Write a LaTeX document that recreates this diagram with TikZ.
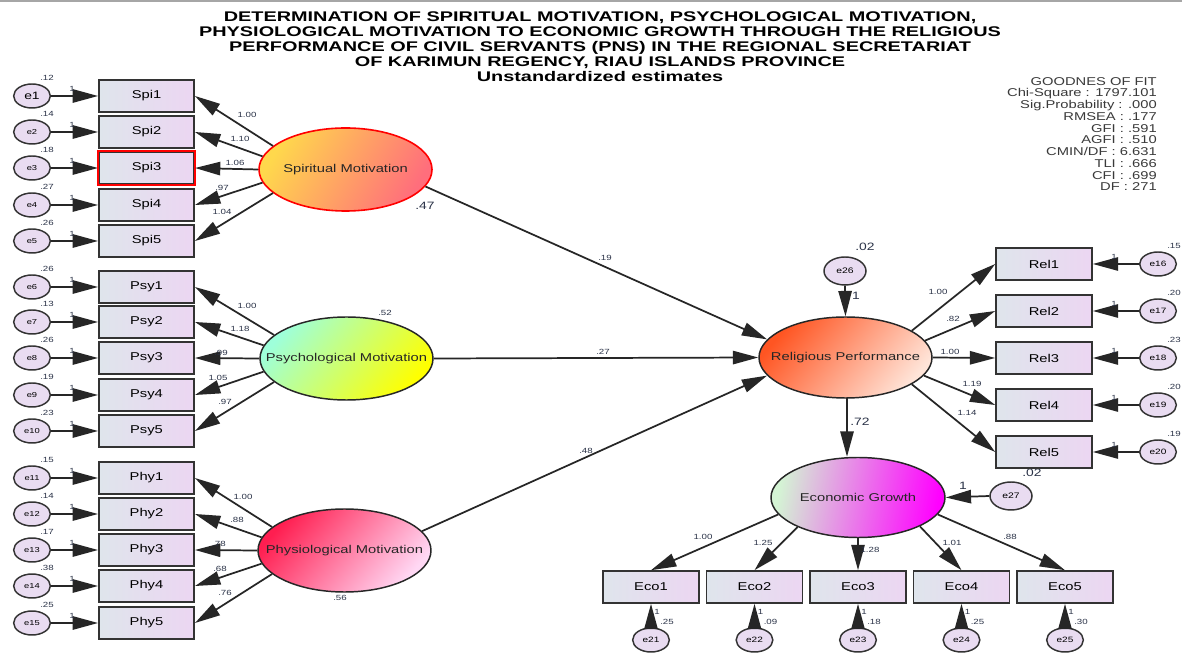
\documentclass[tikz,border=0pt]{standalone}
\usepackage{fontspec}
\setmainfont{Liberation Sans}[FakeStretch=1.3]
\newfontfamily\titlefont{Liberation Sans}[FakeStretch=1.42]
\usetikzlibrary{shapes.geometric,arrows.meta}
\definecolor{boxL}{HTML}{DFE5EC}
\definecolor{boxR}{HTML}{ECD6F2}
\definecolor{errF}{HTML}{E9DCF1}
\definecolor{lblC}{HTML}{2B3348}
\definecolor{spA}{HTML}{FFD84C}
\definecolor{spB}{HTML}{FF6E7C}
\definecolor{psA}{HTML}{9EFFDA}
\definecolor{psB}{HTML}{FFFF00}
\definecolor{phA}{HTML}{FF1E50}
\definecolor{phB}{HTML}{FFD8F4}
\definecolor{rpA}{HTML}{FF5522}
\definecolor{rpB}{HTML}{FFE4D8}
\definecolor{egA}{HTML}{D4F4D4}
\definecolor{egM}{HTML}{C4A0C4}
\definecolor{egB}{HTML}{FF00FF}
\definecolor{gofC}{HTML}{3A3A3A}
\begin{document}
\begin{tikzpicture}[x=0.75pt,y=-0.75pt,
 arr/.style={line width=1.3pt, draw=black!85, -{Triangle[length=19pt,width=10pt]}},
 obs/.style={rectangle, draw=black!80, line width=1.2pt, minimum width=71.5pt, minimum height=24pt, inner sep=0pt, left color=boxL, right color=boxR, font=\fontsize{8.5}{9}\selectfont},
 err/.style={ellipse, draw=black!80, line width=1.1pt, fill=errF, minimum width=27.5pt, minimum height=18pt, inner sep=0pt, font=\fontsize{5.4}{6}\selectfont},
 bigerr/.style={err, minimum width=31.5pt, minimum height=21pt, font=\fontsize{6}{7}\selectfont},
 lat/.style={ellipse, line width=1.1pt, draw=black!85, minimum width=129.75pt, minimum height=62.25pt, inner sep=0pt},
 lattext/.style={font=\fontsize{8.5}{9}\selectfont, text=black!85, inner sep=0pt},
 sm/.style={font=\fontsize{5.6}{6}\selectfont, text=lblC, inner sep=0pt},
 md/.style={font=\fontsize{8}{9}\selectfont, text=lblC, inner sep=0pt},
]
\useasboundingbox (0,0) rectangle (1182,655);
\fill[white] (0,0) rectangle (1182,655);
\draw[black!35, line width=1pt] (0,1) -- (1182,1);

% title
\node[align=center, anchor=north, inner sep=0pt, font=\titlefont\bfseries\fontsize{10.5}{11.25}\selectfont] (title) at (600,11)
 {DETERMINATION OF SPIRITUAL MOTIVATION, PSYCHOLOGICAL MOTIVATION,\\
  PHYSIOLOGICAL MOTIVATION TO ECONOMIC GROWTH THROUGH THE RELIGIOUS\\
  PERFORMANCE OF CIVIL SERVANTS (PNS) IN THE REGIONAL SECRETARIAT\\
  OF KARIMUN REGENCY, RIAU ISLANDS PROVINCE\\
  Unstandardized estimates};

% goodness of fit
\node[align=right, anchor=north east, inner sep=0pt, text=gofC, font=\fontsize{8.5}{8.8}\selectfont] (gof) at (1157,77)
 {GOODNES OF FIT\\Chi-Square : 1797.101\\Sig.Probability : .000\\RMSEA : .177\\GFI : .591\\AGFI : .510\\CMIN/DF : 6.631\\TLI : .666\\CFI : .699\\DF : 271};

% latent variables
\node[lat, draw=red, line width=1.2pt, top color=spA, bottom color=spB, shading angle=60,
  label={[lattext]center:Spiritual Motivation}] (S) at (345.5,169.5) {};
\node[lat, top color=psA, bottom color=psB, shading angle=50,
  label={[lattext]center:Psychological Motivation}] (Ps) at (346.5,358.5) {};
\node[lat, top color=phA, bottom color=phB, shading angle=50,
  label={[lattext]center:Physiological Motivation}] (Ph) at (344.5,550.5) {};
\node[lat, minimum height=60.75pt, top color=rpA, bottom color=rpB, shading angle=50,
  label={[lattext]center:Religious Performance}] (R) at (845.5,357.5) {};
\node[lat, minimum width=130.5pt, minimum height=60pt, left color=egA, middle color=egM, right color=egB, shading angle=80,
  label={[lattext]center:Economic Growth}] (E) at (858,497.5) {};

% left indicators
\foreach \b/\q/\y/\v in {Spi1/1/96/.12, Spi2/2/132/.14, Spi3/3/168/.18, Spi4/4/205/.27, Spi5/5/241/.26,
  Psy1/6/287/.26, Psy2/7/322/.13, Psy3/8/358/.26, Psy4/9/395/.19, Psy5/10/431/.23,
  Phy1/11/478/.15, Phy2/12/514/.14, Phy3/13/550/.17, Phy4/14/586/.38, Phy5/15/623/.25}{
  \node[obs] (\b) at (146.5,\y) {\b};
  \node[err, font={\ifnum\q=1 \fontsize{8}{9}\else\fontsize{5.4}{6}\fi\selectfont}] (e\q) at (32,\y) {e\q};
  \draw[arr] (e\q) -- (\b);
  \node[sm] (v\q) at (47,\y-18) {\v};
  \node[sm] (o\q) at (72,\y-7) {1};
}
\draw[red, line width=1.2pt] (Spi3.south west) rectangle (Spi3.north east);

% loadings from latent to left indicators
\foreach \l/\b in {S/Spi, Ps/Psy, Ph/Phy}{
  \draw[arr] (\l.162) -- (\b1.east);
  \draw[arr] (\l.171) -- (\b2.east);
  \draw[arr] (\l.west) -- (\b3.east);
  \draw[arr] (\l.189) -- (\b4.east);
  \draw[arr] (\l.198) -- (\b5.east);
}
\foreach \n/\x/\y/\t in {a1/247/115/1.00, a2/240/139/1.10, a3/235/163/1.06, a4/222/188/.97, a5/222/212/1.04,
  b1/247/306/1.00, b2/240/329/1.18, b3/221/353/.99, b4/218/378/1.05, b5/225/402/.97,
  c1/243/497/1.00, c2/237/520/.88, c3/219/544/.78, c4/220/569/.68, c5/225/593/.76}{
  \node[sm] (\n) at (\x,\y) {\t};
}
\node[md] (vS) at (425,206) {.47};
\node[sm] (vPs) at (385,313) {.52};
\node[sm] (vPh) at (340,598) {.56};

% structural paths
\draw[arr] (S.348) -- (R.167);
\draw[arr] (Ps.east) -- (R.west);
\draw[arr] (Ph.14) -- (R.193);
\node[sm] (p1) at (605,258) {.19};
\node[sm] (p2) at (603,352) {.27};
\node[sm] (p3) at (586,451) {.48};

% e26
\node[bigerr] (e26) at (845,271) {e26};
\draw[arr] (e26.south) -- (R.north);
\node[md] (v26) at (865,247) {.02};
\node[md] (o26) at (856,296) {1};

% R -> E
\coordinate (rb) at (847,398.5);
\draw[arr] (rb) -- (rb |- E.north);
\node[md] (p4) at (860,422) {.72};

% e27
\node[bigerr] (e27) at (1011,496) {e27};
\draw[arr] (e27.west) -- (E.east);
\node[md] (v27) at (1032,473) {.02};
\node[md] (o27) at (963,486) {1};

% Rel indicators
\foreach \q/\y/\v/\k in {16/264/.15/1, 17/311/.20/2, 18/358/.23/3, 19/405/.20/4, 20/452/.19/5}{
  \node[obs, minimum width=72pt] (Rel\k) at (1044,\y) {Rel\k};
  \node[err, font=\fontsize{5.8}{6}\selectfont] (e\q) at (1158,\y) {e\q};
  \draw[arr] (e\q) -- (Rel\k);
  \node[sm] (v\q) at (1174,\y-18) {\v};
  \node[sm] (o\q) at (1114,\y-7) {1};
}
\draw[arr] (R.22) -- (Rel1.west);
\draw[arr] (R.12) -- (Rel2.west);
\draw[arr] (R.east) -- (Rel3.west);
\draw[arr] (R.-13) -- (Rel4.west);
\draw[arr] (R.-22) -- (Rel5.west);
\foreach \n/\x/\y/\t in {r1/938/292/1.00, r2/953/319/.82, r3/950/352/1.00, r4/972/384/1.19, r5/967/413/1.14}{
  \node[sm] (\n) at (\x,\y) {\t};
}

% Eco indicators
\foreach \q/\x/\v/\k in {21/651/.25/1, 22/754.5/.09/2, 23/858/.18/3, 24/961.5/.25/4, 25/1065/.30/5}{
  \node[obs, minimum width=72pt] (Eco\k) at (\x,587) {Eco\k};
  \node[err, font=\fontsize{5.8}{6}\selectfont] (e\q) at (\x,640) {e\q};
  \draw[arr] (e\q) -- (Eco\k);
  \node[sm] (v\q) at (\x+16,622) {\v};
  \node[sm] (o\q) at (\x+6,612) {1};
}
\draw[arr] (E.192) -- (Eco1.north);
\draw[arr] (E.206) -- (Eco2.north);
\draw[arr] (E.south) -- (Eco3.north);
\draw[arr] (E.-25) -- (Eco4.north);
\draw[arr] (E.-12) -- (Eco5.north);
\foreach \n/\x/\y/\t in {g1/703/537/1.00, g2/763/543/1.25, g3/870/550/1.28, g4/952/543/1.01, g5/1010/537/.88}{
  \node[sm] (\n) at (\x,\y) {\t};
}
\end{tikzpicture}
\end{document}
